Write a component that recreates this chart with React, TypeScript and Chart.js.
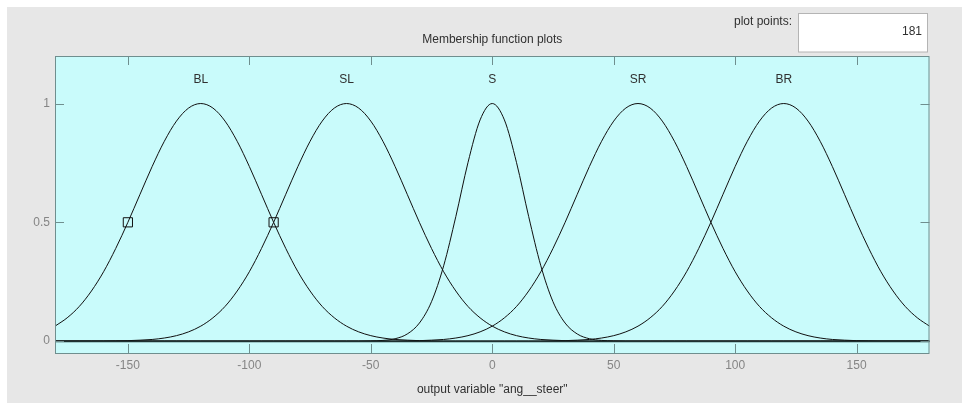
import { useEffect, useRef } from "react";
import { Chart, registerables } from "chart.js";

Chart.register(...registerables);

// Universe of discourse for the steering angle, sampled every 5 degrees
const angles = [
  -180, -175, -170, -165, -160, -155, -150, -145, -140, -135,
  -130, -125, -120, -115, -110, -105, -100, -95, -90, -85,
  -80, -75, -70, -65, -60, -55, -50, -45, -40, -35,
  -30, -25, -20, -15, -10, -5, 0, 5, 10, 15,
  20, 25, 30, 35, 40, 45, 50, 55, 60, 65,
  70, 75, 80, 85, 90, 95, 100, 105, 110, 115,
  120, 125, 130, 135, 140, 145, 150, 155, 160, 165,
  170, 175, 180,
];

// Membership degrees of each output set
const muBL = [
  0.063, 0.098, 0.146, 0.211, 0.292, 0.39, 0.5, 0.618, 0.735, 0.841,
  0.926, 0.981, 1, 0.981, 0.926, 0.841, 0.735, 0.618, 0.5, 0.39,
  0.292, 0.211, 0.146, 0.098, 0.063, 0.039, 0.023, 0.013, 0.007, 0.004,
  0.002, 0.001, 0, 0, 0, 0, 0, 0, 0, 0,
  0, 0, 0, 0, 0, 0, 0, 0, 0, 0,
  0, 0, 0, 0, 0, 0, 0, 0, 0, 0,
  0, 0, 0, 0, 0, 0, 0, 0, 0, 0,
  0, 0, 0,
];
const muSL = [
  0, 0, 0, 0, 0, 0.001, 0.002, 0.004, 0.007, 0.013,
  0.023, 0.039, 0.063, 0.098, 0.146, 0.211, 0.292, 0.39, 0.5, 0.618,
  0.735, 0.841, 0.926, 0.981, 1, 0.981, 0.926, 0.841, 0.735, 0.618,
  0.5, 0.39, 0.292, 0.211, 0.146, 0.098, 0.063, 0.039, 0.023, 0.013,
  0.007, 0.004, 0.002, 0.001, 0, 0, 0, 0, 0, 0,
  0, 0, 0, 0, 0, 0, 0, 0, 0, 0,
  0, 0, 0, 0, 0, 0, 0, 0, 0, 0,
  0, 0, 0,
];
const muS = [
  0, 0, 0, 0, 0, 0, 0, 0, 0, 0,
  0, 0, 0, 0, 0, 0, 0, 0, 0, 0,
  0, 0, 0, 0, 0, 0, 0.001, 0.003, 0.01, 0.03,
  0.076, 0.166, 0.317, 0.524, 0.751, 0.931, 1, 0.931, 0.751, 0.524,
  0.317, 0.166, 0.076, 0.03, 0.01, 0.003, 0.001, 0, 0, 0,
  0, 0, 0, 0, 0, 0, 0, 0, 0, 0,
  0, 0, 0, 0, 0, 0, 0, 0, 0, 0,
  0, 0, 0,
];
const muSR = [
  0, 0, 0, 0, 0, 0, 0, 0, 0, 0,
  0, 0, 0, 0, 0, 0, 0, 0, 0, 0,
  0, 0, 0, 0, 0, 0, 0, 0, 0, 0.001,
  0.002, 0.004, 0.007, 0.013, 0.023, 0.039, 0.063, 0.098, 0.146, 0.211,
  0.292, 0.39, 0.5, 0.618, 0.735, 0.841, 0.926, 0.981, 1, 0.981,
  0.926, 0.841, 0.735, 0.618, 0.5, 0.39, 0.292, 0.211, 0.146, 0.098,
  0.063, 0.039, 0.023, 0.013, 0.007, 0.004, 0.002, 0.001, 0, 0,
  0, 0, 0,
];
const muBR = [
  0, 0, 0, 0, 0, 0, 0, 0, 0, 0,
  0, 0, 0, 0, 0, 0, 0, 0, 0, 0,
  0, 0, 0, 0, 0, 0, 0, 0, 0, 0,
  0, 0, 0, 0, 0, 0, 0, 0, 0, 0,
  0, 0.001, 0.002, 0.004, 0.007, 0.013, 0.023, 0.039, 0.063, 0.098,
  0.146, 0.211, 0.292, 0.39, 0.5, 0.618, 0.735, 0.841, 0.926, 0.981,
  1, 0.981, 0.926, 0.841, 0.735, 0.618, 0.5, 0.39, 0.292, 0.211,
  0.146, 0.098, 0.063,
];

const setNames = ["BL", "SL", "S", "SR", "BR"];
const setPeaks = [-120, -60, 0, 60, 120];
const setLabelLevel = 1.1;

// Handles of the currently selected set (BL)
const handleX = [-150, -90];
const handleY = [0.5, 0.5];

const xTickValues = [-150, -100, -50, 0, 50, 100, 150];
const yTickValues = [0, 0.5, 1];

const plotPoints = "181";

const FONT = "'Liberation Sans', Arial, Helvetica, sans-serif";

const mfPanel = {
  id: "mfPanel",
  beforeDraw(chart: any) {
    const { ctx, chartArea: a, width, height } = chart;
    ctx.save();
    ctx.fillStyle = "#ffffff";
    ctx.fillRect(0, 0, width, height);
    ctx.fillStyle = "#e7e7e7";
    ctx.fillRect(7, 7, width - 7, height - 7);
    ctx.fillStyle = "#c9fbfb";
    ctx.fillRect(a.left, a.top, a.right - a.left, a.bottom - a.top);

    ctx.font = `12px ${FONT}`;
    ctx.textBaseline = "middle";
    ctx.fillStyle = "#303030";
    ctx.textAlign = "center";
    ctx.fillText("Membership function plots", (a.left + a.right) / 2, 40);

    ctx.textAlign = "right";
    ctx.fillText("plot points:", 792, 22);

    ctx.fillStyle = "#ffffff";
    ctx.fillRect(798.5, 13.5, 129, 38.5);
    ctx.strokeStyle = "#b4b4b4";
    ctx.lineWidth = 1;
    ctx.strokeRect(798.5, 13.5, 129, 38.5);
    ctx.fillStyle = "#303030";
    ctx.fillText(plotPoints, 922, 32);
    ctx.restore();
  },
  afterDatasetsDraw(chart: any) {
    const { ctx, chartArea: a, scales } = chart;
    const xs = scales.x;
    const ys = scales.y;
    ctx.save();

    // zero-membership baseline
    const y0 = Math.round(ys.getPixelForValue(0)) + 0.5;
    ctx.strokeStyle = "#1e3232";
    ctx.lineWidth = 1.5;
    ctx.beginPath();
    ctx.moveTo(a.left, y0);
    ctx.lineTo(a.right, y0);
    ctx.stroke();

    // axes box with inward ticks on every side
    ctx.strokeStyle = "#6f8e8e";
    ctx.lineWidth = 1;
    ctx.strokeRect(a.left + 0.5, a.top + 0.5, a.right - a.left - 1, a.bottom - a.top);
    const tl = 9;
    ctx.beginPath();
    for (const v of xTickValues) {
      const px = Math.round(xs.getPixelForValue(v)) + 0.5;
      ctx.moveTo(px, a.top);
      ctx.lineTo(px, a.top + tl);
      ctx.moveTo(px, a.bottom);
      ctx.lineTo(px, a.bottom - tl);
    }
    for (const v of yTickValues) {
      const py = Math.round(ys.getPixelForValue(v)) + 0.5;
      ctx.moveTo(a.left, py);
      ctx.lineTo(a.left + tl, py);
      ctx.moveTo(a.right, py);
      ctx.lineTo(a.right - tl, py);
    }
    ctx.stroke();

    // set names above each peak
    ctx.font = `12px ${FONT}`;
    ctx.fillStyle = "#303030";
    ctx.textAlign = "center";
    ctx.textBaseline = "middle";
    setNames.forEach((name, i) => {
      ctx.fillText(name, xs.getPixelForValue(setPeaks[i]), ys.getPixelForValue(setLabelLevel));
    });
    ctx.restore();
  },
};

export default function App() {
  const canvasRef = useRef<HTMLCanvasElement | null>(null);

  useEffect(() => {
    if (!canvasRef.current) return;
    const curve = (data: number[]) => ({
      data: angles.map((x, i) => ({ x, y: data[i] })),
      borderColor: "#101010",
      borderWidth: 1,
      pointRadius: 0,
      fill: false,
      cubicInterpolationMode: "monotone" as const,
    });

    const chart = new Chart(canvasRef.current, {
      type: "line",
      data: {
        datasets: [
          curve(muBL),
          curve(muSL),
          curve(muS),
          curve(muSR),
          curve(muBR),
          {
            data: handleX.map((x, i) => ({ x, y: handleY[i] })),
            showLine: false,
            pointStyle: "rect",
            pointRadius: 6.5,
            pointBorderWidth: 1,
            pointBorderColor: "#101010",
            pointBackgroundColor: "rgba(0,0,0,0)",
          } as any,
        ],
      },
      options: {
        animation: false,
        responsive: true,
        maintainAspectRatio: false,
        layout: { padding: { left: 0, top: 56, right: 32.5, bottom: 0 } },
        plugins: {
          legend: { display: false },
          tooltip: { enabled: false },
        },
        scales: {
          x: {
            type: "linear",
            min: -180,
            max: 180,
            afterBuildTicks: (s: any) => {
              s.ticks = xTickValues.map((value) => ({ value }));
            },
            afterFit: (s: any) => {
              s.height = 50;
            },
            grid: { display: false, drawTicks: false },
            border: { display: false },
            ticks: {
              padding: 5,
              color: "#858585",
              font: { family: FONT, size: 12 },
              callback: (v: any) => String(v),
            },
            title: {
              display: true,
              text: 'output variable "ang__steer"',
              color: "#303030",
              font: { family: FONT, size: 12 },
              padding: { top: 0, bottom: 6 },
            },
          },
          y: {
            type: "linear",
            min: -0.05,
            max: 1.2,
            afterBuildTicks: (s: any) => {
              s.ticks = yTickValues.map((value) => ({ value }));
            },
            afterFit: (s: any) => {
              s.width = 55;
            },
            grid: { display: false, drawTicks: false },
            border: { display: false },
            ticks: {
              padding: 5,
              color: "#858585",
              font: { family: FONT, size: 12 },
              callback: (v: any) => String(v),
            },
          },
        },
      },
      plugins: [mfPanel],
    });
    return () => chart.destroy();
  }, []);

  return (
    <div style={{ position: "absolute", left: 0, top: 0, width: 962, height: 403 }}>
      <canvas ref={canvasRef} />
    </div>
  );
}
